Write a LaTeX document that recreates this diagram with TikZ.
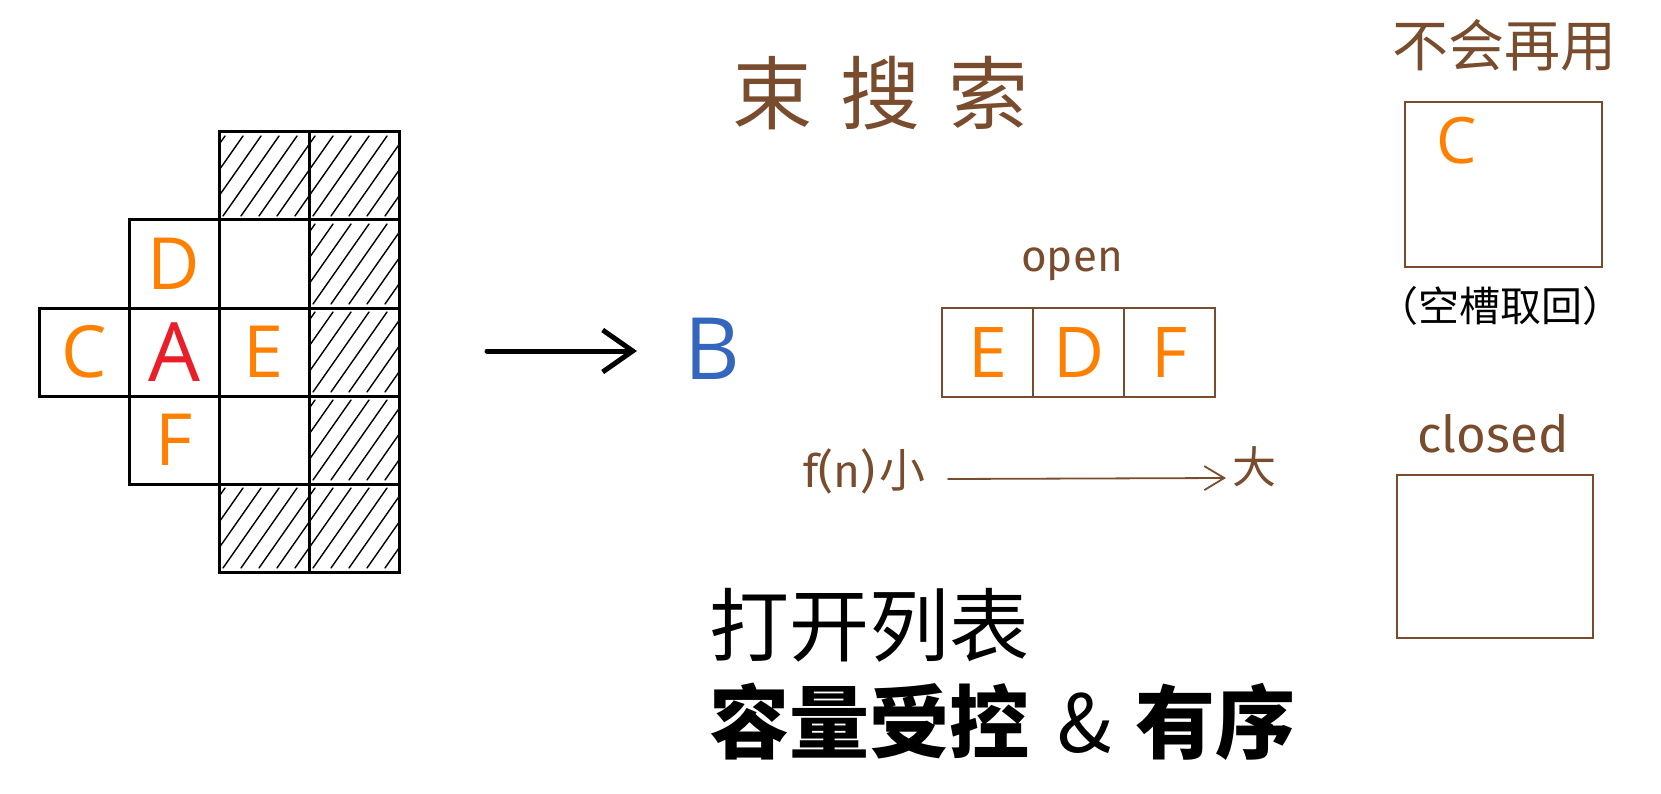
\documentclass[tikz,border=0pt]{standalone}
\usepackage{fontspec}
\setmainfont{Open Sans}
\newfontfamily\hand{Fira Sans}
\newfontfamily\cjk{Noto Sans CJK SC}
\usetikzlibrary{arrows.meta}
\definecolor{brownink}{RGB}{122,76,46}
\definecolor{orangeink}{RGB}{255,128,0}
\definecolor{redink}{RGB}{234,30,40}
\definecolor{blueink}{RGB}{52,102,190}
\newcommand{\fsz}[1]{\fontsize{#1}{#1}\selectfont}
\begin{document}
\begin{tikzpicture}[x=1pt,y=-1pt,
  cell/.style={draw=black, line width=3pt, minimum width=90pt, minimum height=88pt,
    inner sep=0pt, font=\fsz{72}, text=orangeink},
  hatched/.style={cell, path picture={
    \foreach \k in {-4,...,5}{
      \draw[line width=1.4pt, line cap=round]
        ([xshift=\k*18pt+4pt, yshift=4pt]path picture bounding box.south west) -- ++(56pt,80pt);}}},
  brownbox/.style={draw=brownink, line width=2.2pt, inner sep=0pt},
  obox/.style={brownbox, minimum width=91pt, minimum height=89pt, text=orangeink, font=\fsz{70}},
  brownhand/.style={text=brownink, inner sep=0pt},
  bigarrow/.style={line width=5pt, line cap=round, -{Straight Barb[length=30pt,width=42pt]}},
  thinarrow/.style={draw=brownink, line width=1.8pt, line cap=round, -{Straight Barb[length=20pt,width=24pt]}}
]
\path (0,0) rectangle (1661,794);

% grid
\node[hatched] (h20) at (264,176) {};
\node[hatched] (h30) at (354,176) {};
\node[cell] (d) at (174,264) {D};
\node[cell] (e21) at (264,264) {};
\node[hatched] (h31) at (354,264) {};
\node[cell] (c) at (84,352) {C};
\node[cell, text=redink, font=\fsz{82}] (a) at (174,352) {A};
\node[cell] (e) at (264,352) {E};
\node[hatched] (h32) at (354,352) {};
\node[cell] (f) at (174,440) {F};
\node[cell] (e23) at (264,440) {};
\node[hatched] (h33) at (354,440) {};
\node[hatched] (h24) at (264,528) {};
\node[hatched] (h34) at (354,528) {};

% arrow to B
\coordinate (as) at (487,351);
\coordinate (ae) at (637,351);
\draw[bigarrow] (as) -- (ae);
\node[text=blueink, font=\fsz{86}, inner sep=0pt] (b) at (712,349) {B};

% title
\node[brownhand, font=\cjk\fsz{80}] (title) at (880,93) {束\hspace{28pt}搜\hspace{28pt}索};

% open list
\node[brownhand, font=\hand\fsz{44}, anchor=base] (openlbl) at (1072,272) {open};
\node[obox] (o1) at (987.5,352.5) {E};
\node[obox] (o2) at (1078.5,352.5) {D};
\node[obox] (o3) at (1169.5,352.5) {F};

% f(n) axis
\node[brownhand, font=\hand\fsz{46}, anchor=base west] (fn) at (803,487) {f(n)\hspace{4pt}{\cjk 小}};
\coordinate (fs) at (948,479);
\coordinate (fe) at (1226,478);
\draw[thinarrow] (fs) -- (fe);
\node[brownhand, font=\cjk\fsz{44}] (big) at (1254,467) {大};

% not reused box
\node[brownhand, font=\cjk\fsz{56}] (notreuse) at (1504,45) {不会再用};
\node[brownbox, minimum width=197pt, minimum height=165pt] (reuse) at (1503.5,184.5) {};
\node[text=orangeink, font=\fsz{64}, inner sep=0pt] (cr) at (1457,141) {C};
\node[font=\cjk\fsz{41}, inner sep=0pt] (slot) at (1500,306) {（空槽取回）};

% closed box
\node[brownhand, font=\hand\fsz{51}, anchor=base] (closedlbl) at (1493,452) {closed};
\node[brownbox, minimum width=196pt, minimum height=163pt] (closedbox) at (1495,556.5) {};

% bottom text
\node[font=\cjk\fsz{80}, anchor=west, inner sep=0pt] (l1) at (709,625) {打开列表};
\node[font=\cjk\fsz{80}, anchor=west, inner sep=0pt] (l2) at (709,721.5) {\bfseries 容量受控\hspace{28pt}{\mdseries\&}\hspace{24pt}有序};
\end{tikzpicture}
\end{document}
